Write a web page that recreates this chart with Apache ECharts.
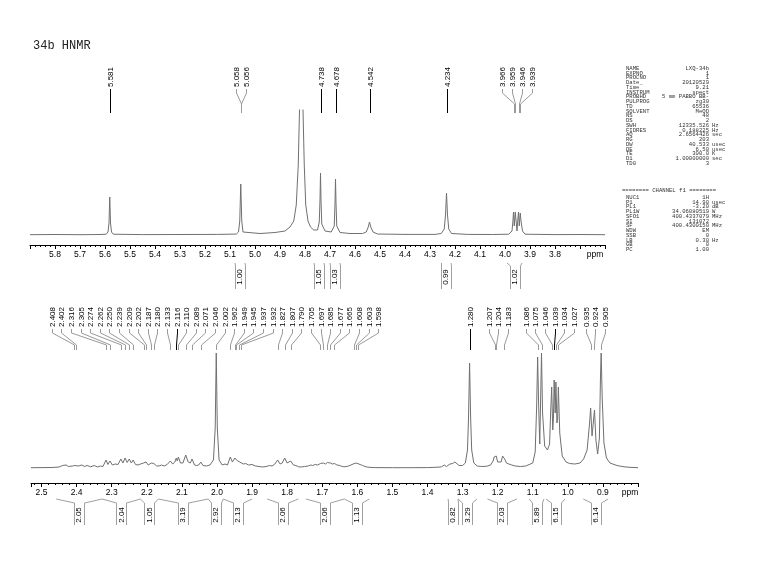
<!DOCTYPE html>
<html>
<head>
<meta charset="utf-8">
<title>34b HNMR</title>
<script src="https://cdn.jsdelivr.net/npm/echarts@6/dist/echarts.min.js"></script>
<style>
html, body { margin: 0; padding: 0; background: #fff; }
#nmr { width: 759px; height: 573px; }
</style>
</head>
<body>
<div id="nmr"></div>
<script>
// ---- data ----
// top panel 5.9 - 3.6 ppm, [ppm, intensity]
const topSpectrum = [
  [5.90, 0.3], [5.80, 0.5], [5.70, 0.3], [5.62, 0.5], [5.595, 0.8], [5.588, 3], [5.584, 12], [5.581, 38],
  [5.578, 12], [5.574, 3], [5.567, 0.8], [5.45, 0.4], [5.30, 0.5], [5.15, 0.6], [5.075, 0.9], [5.066, 3],
  [5.061, 14], [5.057, 51], [5.053, 14], [5.048, 3], [5.040, 1.2], [4.98, 1.5], [4.92, 2.5], [4.88, 4],
  [4.86, 8], [4.845, 14], [4.835, 30], [4.827, 70], [4.822, 125], [4.818, 260], [4.812, 260], [4.808, 125],
  [4.803, 70], [4.797, 30], [4.788, 14], [4.778, 8], [4.765, 5], [4.750, 5], [4.743, 13], [4.740, 35],
  [4.738, 62], [4.736, 35], [4.733, 11], [4.72, 4], [4.695, 3], [4.683, 9], [4.680, 32], [4.678, 56],
  [4.676, 32], [4.673, 9], [4.66, 2.5], [4.62, 1.5], [4.57, 1.5], [4.555, 3], [4.547, 8], [4.542, 13],
  [4.537, 8], [4.528, 3], [4.51, 1], [4.40, 0.6], [4.28, 0.6], [4.255, 1.5], [4.243, 6], [4.238, 20],
  [4.234, 42], [4.230, 20], [4.225, 6], [4.214, 1.5], [4.15, 0.6], [4.05, 0.5], [3.985, 0.8], [3.972, 4],
  [3.968, 15], [3.966, 23], [3.963, 9], [3.959, 23], [3.956, 15], [3.952, 4], [3.949, 15], [3.946, 23],
  [3.943, 9], [3.939, 22], [3.936, 14], [3.930, 4], [3.92, 0.8], [3.80, 0.4], [3.70, 0.5], [3.60, 0.3]
];
// bottom panel 2.53 - 0.8 ppm
const bottomSpectrum = [
  [2.53, 0.3], [2.47, 0.5], [2.45, 1], [2.44, 2.5], [2.435, 1.2], [2.43, 3], [2.423, 1.5], [2.418, 3.5],
  [2.412, 2], [2.408, 4], [2.405, 2.5], [2.402, 4.5], [2.395, 2], [2.385, 3], [2.378, 1.5], [2.37, 2.5],
  [2.36, 1.2], [2.35, 2.5], [2.34, 1], [2.332, 2], [2.325, 1.5], [2.316, 8], [2.311, 3.5], [2.305, 7],
  [2.298, 3], [2.29, 4], [2.282, 3.5], [2.274, 9], [2.268, 5], [2.262, 10], [2.256, 5.5], [2.250, 9],
  [2.244, 5], [2.239, 8], [2.232, 3.5], [2.225, 3], [2.218, 4], [2.213, 3], [2.209, 5], [2.205, 3.5],
  [2.202, 6], [2.196, 3], [2.192, 2.5], [2.187, 5], [2.184, 3.5], [2.180, 4.5], [2.172, 2], [2.165, 2],
  [2.158, 3], [2.150, 2], [2.142, 3.5], [2.138, 3], [2.133, 7], [2.126, 4], [2.12, 6], [2.116, 10],
  [2.113, 7], [2.110, 11], [2.104, 5], [2.097, 5], [2.089, 13], [2.082, 6], [2.076, 5], [2.071, 9],
  [2.064, 3], [2.058, 2.5], [2.052, 3], [2.046, 6], [2.040, 2.5], [2.030, 2], [2.020, 3], [2.010, 8],
  [2.005, 40], [2.002, 115], [1.999, 40], [1.994, 8], [1.985, 3], [1.977, 4], [1.970, 3], [1.962, 11],
  [1.956, 6], [1.949, 10], [1.947, 8], [1.945, 10], [1.941, 7], [1.937, 8], [1.935, 6], [1.932, 7],
  [1.925, 4], [1.918, 4.5], [1.91, 3], [1.90, 3.5], [1.89, 2], [1.88, 1.5], [1.87, 1], [1.86, 1.5],
  [1.85, 2.5], [1.843, 2], [1.835, 4], [1.831, 3], [1.827, 8], [1.820, 4], [1.814, 5], [1.807, 10],
  [1.800, 5], [1.795, 4], [1.790, 7], [1.782, 3], [1.775, 2.5], [1.767, 1.2], [1.76, 1], [1.75, 1.5],
  [1.74, 2], [1.733, 3], [1.727, 2.5], [1.72, 3.5], [1.713, 3], [1.705, 4.5], [1.701, 4], [1.697, 5],
  [1.691, 4], [1.685, 5.5], [1.681, 4.5], [1.677, 5], [1.671, 4], [1.665, 4.5], [1.658, 3], [1.65, 2.5],
  [1.643, 1.5], [1.635, 1.2], [1.625, 2], [1.618, 3], [1.612, 4], [1.608, 5], [1.603, 5], [1.598, 4.5],
  [1.592, 3.5], [1.585, 2.5], [1.578, 1.5], [1.57, 0.8], [1.55, 0.4], [1.50, 0.3], [1.45, 0.3], [1.40, 0.4],
  [1.37, 0.8], [1.36, 1.2], [1.352, 3], [1.346, 1.5], [1.341, 2], [1.336, 4], [1.333, 3.5], [1.328, 4.5],
  [1.322, 6], [1.318, 4], [1.310, 2.5], [1.300, 2.5], [1.292, 5], [1.286, 18], [1.283, 50], [1.280, 105],
  [1.277, 50], [1.274, 18], [1.268, 5], [1.258, 2], [1.245, 1.5], [1.230, 1.8], [1.220, 3], [1.213, 7],
  [1.210, 11], [1.207, 12], [1.204, 12], [1.200, 6], [1.195, 4.5], [1.190, 6], [1.186, 12], [1.183, 14],
  [1.180, 9], [1.175, 5], [1.168, 4], [1.160, 3], [1.150, 2], [1.135, 1.5], [1.12, 2], [1.10, 5],
  [1.093, 16], [1.089, 60], [1.086, 111], [1.083, 60], [1.080, 24], [1.078, 60], [1.075, 115], [1.072, 55],
  [1.066, 22], [1.058, 18], [1.052, 24], [1.049, 55], [1.046, 81], [1.043, 38], [1.041, 50], [1.039, 88],
  [1.036, 55], [1.034, 86], [1.031, 45], [1.029, 50], [1.027, 81], [1.023, 35], [1.016, 12], [1.005, 6],
  [0.995, 4.5], [0.98, 4], [0.965, 5], [0.955, 9], [0.945, 18], [0.938, 45], [0.935, 60], [0.931, 32],
  [0.928, 30], [0.924, 58], [0.920, 28], [0.915, 14], [0.910, 30], [0.907, 90], [0.905, 115], [0.902, 70],
  [0.897, 25], [0.890, 10], [0.880, 5], [0.86, 2.5], [0.84, 1.2], [0.82, 0.6], [0.80, 0.3]
];

const topPeakLabels = [5.581, 5.058, 5.056, 4.738, 4.678, 4.542, 4.234, 3.966, 3.959, 3.946, 3.939];
const bottomPeakLabels = [2.408, 2.402, 2.316, 2.305, 2.274, 2.262, 2.250, 2.239, 2.209, 2.202, 2.187, 2.180,
  2.133, 2.116, 2.110, 2.089, 2.071, 2.046, 2.002, 1.962, 1.949, 1.945, 1.937, 1.932, 1.827, 1.807, 1.790,
  1.705, 1.697, 1.685, 1.677, 1.665, 1.608, 1.603, 1.598, 1.280, 1.207, 1.204, 1.183, 1.086, 1.075, 1.046,
  1.039, 1.034, 1.027, 0.935, 0.924, 0.905];

// integral regions: start ppm, end ppm, value
const topIntFrom = [5.080, 4.764, 4.700, 4.254, 3.992];
const topIntTo = [5.040, 4.724, 4.660, 4.216, 3.932];
const topIntValue = ['1.00', '1.05', '1.03', '0.99', '1.02'];
const bottomIntFrom = [2.458, 2.327, 2.218, 2.167, 2.025, 1.982, 1.857, 1.746, 1.637, 1.341, 1.313, 1.229, 1.110, 1.062, 0.956];
const bottomIntTo = [2.327, 2.218, 2.167, 2.025, 1.982, 1.900, 1.768, 1.637, 1.566, 1.313, 1.259, 1.145, 1.068, 1.008, 0.885];
const bottomIntValue = ['2.05', '2.04', '1.05', '3.19', '2.92', '2.13', '2.06', '2.06', '1.13', '0.82', '3.29', '2.03', '5.89', '6.15', '6.14'];

// acquisition / processing parameters
const acqParams = [
  ['NAME', 'LXQ-34b', ''], ['EXPNO', '1', ''], ['PROCNO', '1', ''], ['Date_', '20120529', ''],
  ['Time', '9.21', ''], ['INSTRUM', 'spect', ''], ['PROBHD', '5 mm PABBO BB-', ''], ['PULPROG', 'zg30', ''],
  ['TD', '65536', ''], ['SOLVENT', 'MeOD', ''], ['NS', '48', ''], ['DS', '2', ''],
  ['SWH', '12335.526', 'Hz'], ['FIDRES', '0.188225', 'Hz'], ['AQ', '2.6564426', 'sec'], ['RG', '203', ''],
  ['DW', '40.533', 'usec'], ['DE', '6.50', 'usec'], ['TE', '300.0', 'K'], ['D1', '1.00000000', 'sec'],
  ['TD0', '3', '']
];
const channelParams = [
  ['NUC1', '1H', ''], ['P1', '14.90', 'usec'], ['PL1', '-3.20', 'dB'], ['PL1W', '34.06080519', 'W'],
  ['SFO1', '400.4337079', 'MHz'], ['SI', '131072', ''], ['SF', '400.4300150', 'MHz'], ['WDW', 'EM', ''],
  ['SSB', '0', ''], ['LB', '0.30', 'Hz'], ['GB', '0', ''], ['PC', '1.00', '']
];

// ---- layout (pixels) ----
const topLayout = { textBottom: 87, l1: 89, l2: 93, l3: 104, l4: 113, gap: 10 };
const botLayout = { textBottom: 327, l1: 329, l2: 333, l3: 345, l4: 350, gap: 9.6 };
const topIntLayout = { yTop: 263, yMid: 266, yBot: 289, yText: 277 };
const botIntLayout = { yTop: 499, yMid: 503, yBot: 525, yText: 515 };

const labelFont = 'Liberation Sans, Arial, sans-serif';
const monoFont = 'Liberation Mono, DejaVu Sans Mono, monospace';

// push overlapping labels apart, keeping each group centred on its peaks
function spreadLabels(ideal, gap) {
  const groups = ideal.map(x => ({ n: 1, sum: x }));
  let changed = true;
  while (changed) {
    changed = false;
    for (let i = 0; i < groups.length - 1; i++) {
      const a = groups[i], b = groups[i + 1];
      const aEnd = a.sum / a.n + (a.n - 1) * gap / 2;
      const bStart = b.sum / b.n - (b.n - 1) * gap / 2;
      if (bStart - aEnd < gap - 0.01) {
        groups.splice(i, 2, { n: a.n + b.n, sum: a.sum + b.sum });
        changed = true;
        break;
      }
    }
  }
  const out = [];
  groups.forEach(g => {
    const c = g.sum / g.n;
    for (let k = 0; k < g.n; k++) out.push(c + (k - (g.n - 1) / 2) * gap);
  });
  return out;
}

const crisp = v => Math.round(v) + 0.5;

function peakLabelRender(peaks, lay) {
  return function (params, api) {
    const ideal = peaks.map(p => api.coord([p, 0])[0]);
    const xs = spreadLabels(ideal, lay.gap);
    const i = params.dataIndex;
    const xp = crisp(ideal[i]);
    const xl = crisp(xs[i]);
    const single = Math.abs(xs[i] - ideal[i]) < 0.6;
    return {
      type: 'group',
      children: [
        {
          type: 'text', x: xl, y: lay.textBottom, rotation: Math.PI / 2,
          style: { text: peaks[i].toFixed(3), fontSize: 8, fontFamily: labelFont, fill: '#000', align: 'left', verticalAlign: 'middle' }
        },
        {
          type: 'polyline',
          shape: { points: [[xl, lay.l1], [xl, lay.l2], [xp, lay.l3], [xp, lay.l4]] },
          style: { stroke: single ? '#000' : '#9a9a9a', lineWidth: 1, fill: null }
        }
      ]
    };
  };
}

function integralRender(from, to, values, lay) {
  return function (params, api) {
    const i = params.dataIndex;
    const x1 = api.coord([from[i], 0])[0];
    const x2 = api.coord([to[i], 0])[0];
    const xc = (x1 + x2) / 2;
    const tl = crisp(xc - 5), tr = crisp(xc + 5);
    return {
      type: 'group',
      children: [
        {
          type: 'polyline',
          shape: { points: [[x1, lay.yTop], [tl, lay.yMid], [tl, lay.yBot]] },
          style: { stroke: '#a0a0a0', lineWidth: 1, fill: null }
        },
        {
          type: 'polyline',
          shape: { points: [[x2, lay.yTop], [tr, lay.yMid], [tr, lay.yBot]] },
          style: { stroke: '#a0a0a0', lineWidth: 1, fill: null }
        },
        {
          type: 'text', x: xc, y: lay.yText, rotation: Math.PI / 2,
          style: { text: values[i], fontSize: 8, fontFamily: labelFont, fill: '#000', align: 'center', verticalAlign: 'middle' }
        }
      ]
    };
  };
}

function ppmAxis(gridIndex, min, max, hidden, ppmShift) {
  return {
    type: 'value', gridIndex: gridIndex, inverse: true, min: min, max: max, interval: 0.1,
    axisLine: { show: true, onZero: false, lineStyle: { color: '#000', width: 1 } },
    axisTick: { show: true, length: 4, lineStyle: { color: '#000', width: 1 } },
    minorTick: { show: true, splitNumber: 5, length: 2, lineStyle: { color: '#000', width: 1 } },
    splitLine: { show: false },
    minorSplitLine: { show: false },
    axisLabel: {
      show: true, margin: 5, fontSize: 8.5, fontFamily: labelFont, color: '#000',
      showMinLabel: true, showMaxLabel: true,
      formatter: function (v) {
        const r = Math.round(v * 10) / 10;
        if (Math.abs(v - r) > 1e-6) return '';
        if (Math.abs(r - min) < 1e-6) return '{p|ppm}';
        if (hidden.some(h => Math.abs(h - r) < 1e-6)) return '';
        return r.toFixed(1);
      },
      rich: { p: { fontSize: 8.5, fontFamily: labelFont, color: '#000', padding: [0, ppmShift * 2, 0, 0] } }
    }
  };
}

function paramGraphics() {
  const els = [];
  const xName = 626, xVal = 709, xUnit = 712, step = 4.75;
  const font = '5.6px ' + monoFont;
  const addRow = (row, y) => {
    els.push({ type: 'text', left: xName, top: y, style: { text: row[0], font: font, fill: '#333' } });
    els.push({ type: 'text', x: xVal, y: y, style: { text: row[1], font: font, fill: '#333', align: 'right', verticalAlign: 'top' } });
    if (row[2]) els.push({ type: 'text', x: xUnit, y: y, style: { text: row[2], font: font, fill: '#333', verticalAlign: 'top' } });
  };
  acqParams.forEach((row, i) => addRow(row, 65.5 + i * step));
  els.push({ type: 'text', x: 669, y: 188, style: { text: '======== CHANNEL f1 ========', font: font, fill: '#333', align: 'center', verticalAlign: 'top' } });
  channelParams.forEach((row, i) => addRow(row, 194.5 + i * step));
  return els;
}

const chart = echarts.init(document.getElementById('nmr'), null, { renderer: 'canvas' });

chart.setOption({
  animation: false,
  backgroundColor: '#fff',
  grid: [
    { left: 30, top: 110, width: 575, height: 135, containLabel: false, outerBoundsMode: 'none' },
    { left: 31, top: 350, width: 607, height: 133, containLabel: false, outerBoundsMode: 'none' }
  ],
  xAxis: [
    ppmAxis(0, 3.6, 5.9, [5.9, 3.7], 10),
    ppmAxis(1, 0.8, 2.53, [], 8)
  ],
  yAxis: [
    { type: 'value', gridIndex: 0, min: -10, max: 125, show: false, splitLine: { show: false } },
    { type: 'value', gridIndex: 1, min: -15, max: 118, show: false, splitLine: { show: false } }
  ],
  graphic: [
    { type: 'text', left: 33, top: 40, style: { text: '34b HNMR', font: '12px ' + monoFont, fill: '#222' } }
  ].concat(paramGraphics()),
  series: [
    {
      type: 'line', xAxisIndex: 0, yAxisIndex: 0, data: topSpectrum, showSymbol: false, clip: true,
      lineStyle: { color: '#707070', width: 1 }, silent: true
    },
    {
      type: 'line', xAxisIndex: 1, yAxisIndex: 1, data: bottomSpectrum, showSymbol: false, clip: true,
      lineStyle: { color: '#707070', width: 1 }, silent: true
    },
    {
      type: 'custom', xAxisIndex: 0, yAxisIndex: 0, clip: false, silent: true,
      data: topPeakLabels.map(p => [p, 0]),
      renderItem: peakLabelRender(topPeakLabels, topLayout)
    },
    {
      type: 'custom', xAxisIndex: 1, yAxisIndex: 1, clip: false, silent: true,
      data: bottomPeakLabels.map(p => [p, 0]),
      renderItem: peakLabelRender(bottomPeakLabels, botLayout)
    },
    {
      type: 'custom', xAxisIndex: 0, yAxisIndex: 0, clip: false, silent: true,
      data: topIntFrom.map((f, i) => [f, topIntTo[i]]),
      renderItem: integralRender(topIntFrom, topIntTo, topIntValue, topIntLayout)
    },
    {
      type: 'custom', xAxisIndex: 1, yAxisIndex: 1, clip: false, silent: true,
      data: bottomIntFrom.map((f, i) => [f, bottomIntTo[i]]),
      renderItem: integralRender(bottomIntFrom, bottomIntTo, bottomIntValue, botIntLayout)
    }
  ]
});
</script>
</body>
</html>
